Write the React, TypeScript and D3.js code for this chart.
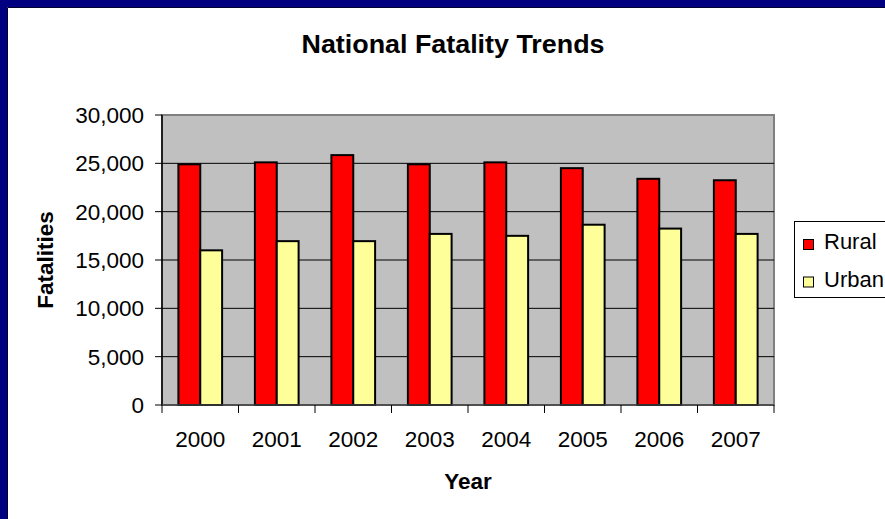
import React from 'react';
import * as d3 from 'd3';

const years = ['2000', '2001', '2002', '2003', '2004', '2005', '2006', '2007'];
const rural = [24900, 25100, 25850, 24900, 25100, 24500, 23400, 23250];
const urban = [16000, 16950, 16950, 17700, 17500, 18650, 18250, 17700];
const seriesNames = ['Rural', 'Urban'];
const seriesColors = ['#FF0000', '#FFFF99'];
const yTicks = [0, 5000, 10000, 15000, 20000, 25000, 30000];

const W = 885;
const H = 519;
const plot = { left: 162, right: 774, top: 115, bottom: 405 };
const font = '"Liberation Sans", Arial, sans-serif';

export default function App() {
  const x = d3.scaleBand<string>().domain(years).range([plot.left, plot.right]);
  const y = d3.scaleLinear().domain([0, 30000]).range([plot.bottom, plot.top]);
  // Excel default: gap width 150% of a bar
  const barW = x.bandwidth() / 3.5;
  const fmt = d3.format(',');
  const series = [rural, urban];

  return (
    <svg width={W} height={H} style={{ position: 'absolute', left: 0, top: 0, background: '#fff' }}>
      {/* navy frame, top and left only */}
      <rect x={0} y={0} width={W} height={7} fill="#000080" />
      <rect x={0} y={0} width={7} height={H} fill="#000080" />
      <line x1={7.5} y1={7.5} x2={W} y2={7.5} stroke="#000030" />
      <line x1={7.5} y1={7.5} x2={7.5} y2={H} stroke="#000030" />

      <text x={453} y={53} textAnchor="middle" fontFamily={font} fontWeight="bold" fontSize={25} fill="#000"
        textLength={303} lengthAdjust="spacingAndGlyphs">
        National Fatality Trends
      </text>

      {/* plot area */}
      <rect x={plot.left} y={plot.top} width={plot.right - plot.left} height={plot.bottom - plot.top}
        fill="#C0C0C0" stroke="#808080" strokeWidth={2} />
      {yTicks.filter(t => t > 0 && t < 30000).map(t => (
        <line key={t} x1={plot.left} x2={plot.right} y1={y(t)} y2={y(t)} stroke="#000" strokeWidth={1} />
      ))}

      {years.map((yr, i) => (
        <g key={yr}>
          {series.map((vals, s) => (
            <rect key={s}
              x={(x(yr) as number) + barW * 0.75 + s * barW}
              y={y(vals[i])}
              width={barW}
              height={y(0) - y(vals[i])}
              fill={seriesColors[s]} stroke="#000" strokeWidth={2} />
          ))}
        </g>
      ))}

      {/* y axis */}
      <line x1={plot.left} x2={plot.left} y1={plot.top} y2={plot.bottom} stroke="#000" strokeWidth={1.5} />
      {yTicks.map(t => (
        <g key={t}>
          <line x1={plot.left - 7} x2={plot.left} y1={y(t)} y2={y(t)} stroke="#000" />
          <text x={144} y={y(t) + 8} textAnchor="end" fontFamily={font} fontSize={22.5} fill="#000">{fmt(t)}</text>
        </g>
      ))}

      {/* x axis */}
      <line x1={plot.left} x2={plot.right} y1={plot.bottom} y2={plot.bottom} stroke="#404040" strokeWidth={1.5} />
      {[...years.map(yr => x(yr) as number), plot.right].map((px, i) => (
        <line key={i} x1={px} x2={px} y1={plot.bottom} y2={plot.bottom + 8} stroke="#000" />
      ))}
      {years.map(yr => (
        <text key={yr} x={(x(yr) as number) + x.bandwidth() / 2} y={447} textAnchor="middle"
          fontFamily={font} fontSize={22.5} fill="#000">{yr}</text>
      ))}

      <text x={468} y={489} textAnchor="middle" fontFamily={font} fontWeight="bold" fontSize={22.5} fill="#000">Year</text>
      <text transform="translate(53,260) rotate(-90)" textAnchor="middle" fontFamily={font} fontWeight="bold"
        fontSize={22.5} fill="#000">Fatalities</text>

      {/* legend */}
      <rect x={794.5} y={221.5} width={120} height={76} fill="#fff" stroke="#000" />
      {seriesNames.map((name, s) => (
        <g key={name}>
          <rect x={803.5} y={239.5 + s * 37.5} width={10} height={10} fill={seriesColors[s]} stroke="#000" />
          <text x={824} y={248.5 + s * 38} fontFamily={font} fontSize={22} fill="#000">{name}</text>
        </g>
      ))}
    </svg>
  );
}
